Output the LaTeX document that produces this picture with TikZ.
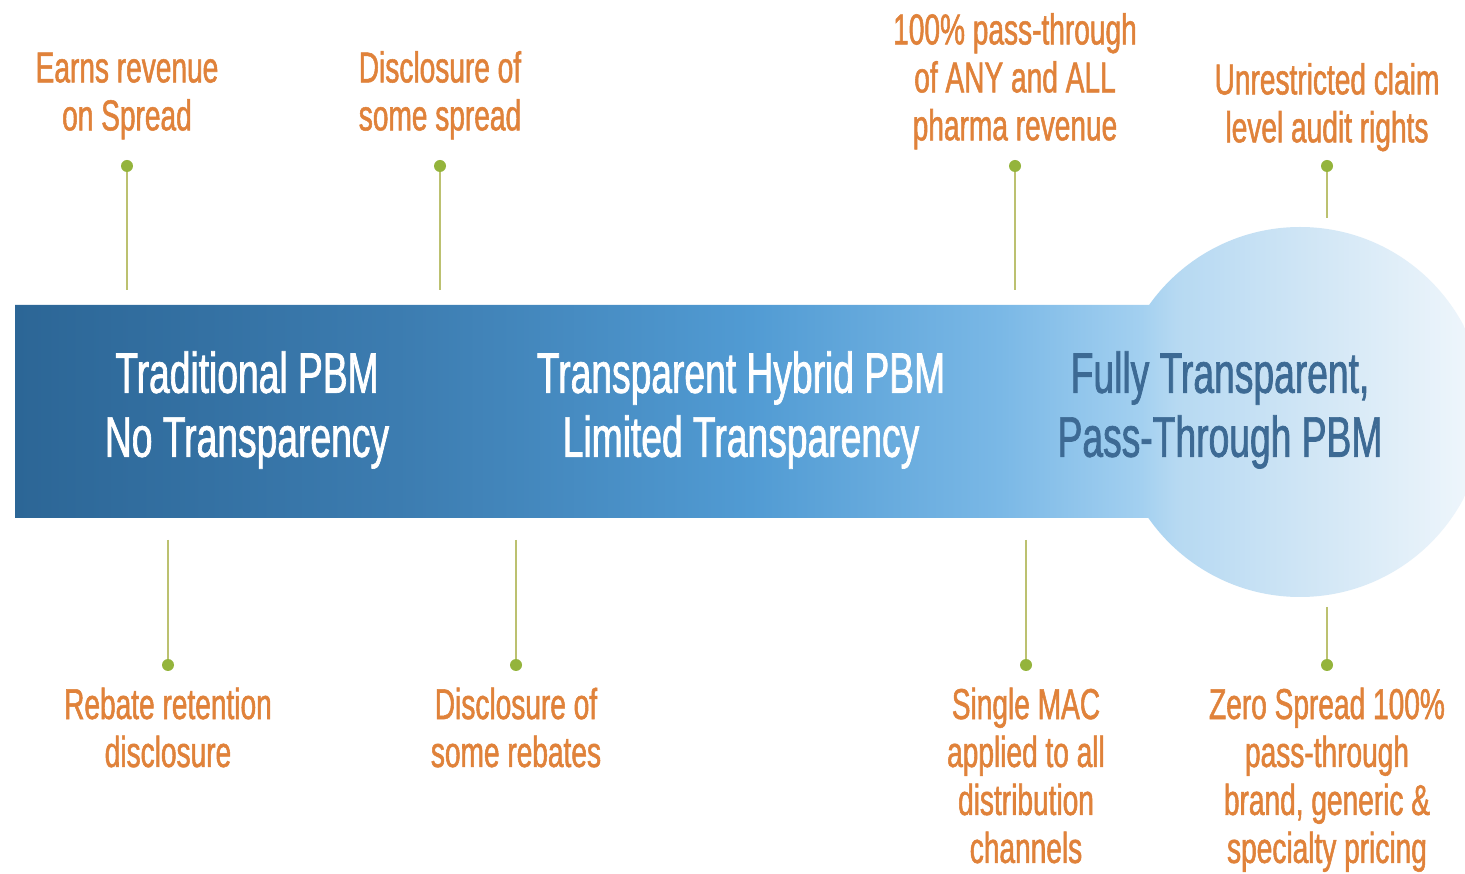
\documentclass[tikz,border=0pt]{standalone}
\usepackage{fontspec}
\setmainfont{Liberation Sans}[FakeStretch=0.65, FakeBold=1.2]
\usetikzlibrary{positioning}

\definecolor{labelorange}{HTML}{E0823A}
\definecolor{stemgreen}{HTML}{BCC170}
\definecolor{dotgreen}{HTML}{94B43C}
\definecolor{stagedark}{HTML}{3D6A94}
\definecolor{bandA}{HTML}{2C6696}
\definecolor{bandB}{HTML}{3C7CB0}
\definecolor{bandC}{HTML}{519BD3}
\definecolor{bandD}{HTML}{7AB8E6}
\definecolor{bandE}{HTML}{A3D0F0}
\definecolor{bandF}{HTML}{B6D9F2}
\definecolor{bandG}{HTML}{CFE5F5}
\definecolor{bandH}{HTML}{EDF5FB}

% left to right fade of the band and the end circle
\pgfdeclarehorizontalshading{stageband}{100bp}{color(0bp)=(bandA); color(25bp)=(bandA);
  color(38bp)=(bandB); color(50bp)=(bandC); color(58.5bp)=(bandD); color(63.3bp)=(bandE);
  color(64.5bp)=(bandF); color(68.8bp)=(bandG); color(74.3bp)=(bandH); color(100bp)=(bandH)}

\tikzstyle{point} = [circle, fill=dotgreen, inner sep=0pt, minimum size=0.24cm]
\tikzstyle{stem} = [draw=stemgreen, line width=1.2pt]
\tikzstyle{note} = [align=center, text=labelorange, inner sep=0pt, font=\fontsize{24.6}{27.3}\selectfont]
\tikzstyle{stage} = [align=center, text=white, inner sep=0pt, font=\fontsize{32.6}{36.4}\selectfont]

\begin{document}
\begin{tikzpicture}[x=0.02cm, y=0.02cm]
      \useasboundingbox (0,0) rectangle (1465,-874);
      \fill[white] (0,0) rectangle (1465,-874);

      % band with the circle at its end
      \shade[shading=stageband] (15,-305) rectangle (1160,-518) (1300,-412) circle (185);

      \node[stage] (trad) at (247,-410) {Traditional PBM\\No Transparency};
      \node[stage] (hybrid) at (741,-410) {Transparent Hybrid PBM\\Limited Transparency};
      \node[stage, text=stagedark] (full) at (1220,-410) {Fully Transparent,\\Pass-Through PBM};

      % dots above the band
      \node[point] (t1) at (127,-166) {};
      \node[point] (t2) at (440,-166) {};
      \node[point] (t3) at (1015,-166) {};
      \node[point] (t4) at (1327,-166) {};
      \coordinate (t1end) at (127,-290);
      \coordinate (t2end) at (440,-290);
      \coordinate (t3end) at (1015,-290);
      \coordinate (t4end) at (1327,-218);

      \node[note, above=0.4cm of t1] (t1txt) {Earns revenue\\on Spread};
      \node[note, above=0.4cm of t2] (t2txt) {Disclosure of\\some spread};
      \node[note, above=0.2cm of t3] (t3txt) {100\% pass-through\\of ANY and ALL\\pharma revenue};
      \node[note, above=0.16cm of t4] (t4txt) {Unrestricted claim\\level audit rights};

      % dots below the band
      \node[point] (b1) at (168,-665) {};
      \node[point] (b2) at (516,-665) {};
      \node[point] (b3) at (1026,-665) {};
      \node[point] (b4) at (1327,-665) {};
      \coordinate (b1end) at (168,-540);
      \coordinate (b2end) at (516,-540);
      \coordinate (b3end) at (1026,-540);
      \coordinate (b4end) at (1327,-607);

      \node[note, below=0.32cm of b1] (b1txt) {Rebate retention\\disclosure};
      \node[note, below=0.32cm of b2] (b2txt) {Disclosure of\\some rebates};
      \node[note, below=0.32cm of b3] (b3txt) {Single MAC\\applied to all\\distribution\\channels};
      \node[note, below=0.32cm of b4] (b4txt) {Zero Spread 100\%\\pass-through\\brand, generic \&\\specialty pricing};

      \draw[stem] (t1) -- (t1end);
      \draw[stem] (t2) -- (t2end);
      \draw[stem] (t3) -- (t3end);
      \draw[stem] (t4) -- (t4end);
      \draw[stem] (b1end) -- (b1);
      \draw[stem] (b2end) -- (b2);
      \draw[stem] (b3end) -- (b3);
      \draw[stem] (b4end) -- (b4);
    \end{tikzpicture}
\end{document}
